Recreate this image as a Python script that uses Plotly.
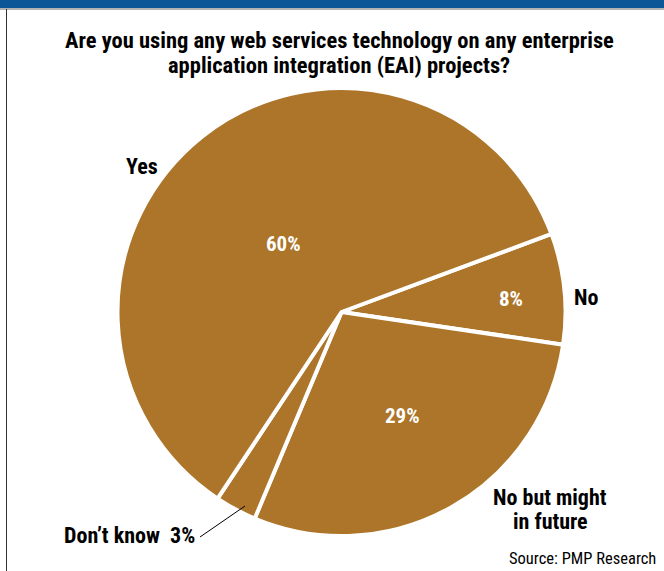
import math
import plotly.graph_objects as go

# Survey answers, in clockwise order starting from the "No" slice
labels = ["No", "No but might in future", "Don’t know", "Yes"]
values = [8, 29, 3, 60]
title_lines = ["Are you using any web services technology on any enterprise",
               "application integration (EAI) projects?"]
source_text = "Source: PMP Research"

W, H = 664, 571
BROWN = "#AC7529"
FONT = "Roboto Condensed, Open Sans Condensed, Arial Narrow, sans-serif"

# pie placement in pixels
cx, cy, R = 341.5, 312, 224
start_deg = 69.6  # compass angle where the first slice begins

fig = go.Figure(go.Pie(
    labels=labels, values=values, sort=False, direction="clockwise",
    rotation=start_deg, textinfo="none", hoverinfo="label+percent",
    marker=dict(colors=[BROWN] * 4, line=dict(color="white", width=4)),
    domain=dict(x=[(cx - R) / W, (cx + R) / W], y=[1 - (cy + R) / H, 1 - (cy - R) / H]),
    showlegend=False,
))


def px_to_paper(x, y):
    return x / W, 1 - y / H


def slice_point(i, frac_r, extra_deg=0.0):
    total = sum(values)
    before = sum(values[:i])
    mid = start_deg + 360 * (before + values[i] / 2) / total + extra_deg
    a = math.radians(mid)
    return cx + frac_r * R * math.sin(a), cy - frac_r * R * math.cos(a)


def text_at(x, y, text, size, color="black", xanchor="center"):
    px, py = px_to_paper(x, y)
    return dict(x=px, y=py, xref="paper", yref="paper", xanchor=xanchor, yanchor="middle",
                text=text, showarrow=False, align="center", borderpad=0,
                font=dict(family=FONT, size=size, color=color))


annotations = []
# white percentages inside the larger slices
inside = {0: (0.76, 1.5), 1: (0.54, -1.0), 3: (0.40, -2.0)}
for i, (r, extra) in inside.items():
    x, y = slice_point(i, r, extra)
    annotations.append(text_at(x, y, f"<b>{values[i]}%</b>", 21, "white"))

# category names around the pie
annotations.append(text_at(586, 297, f"<b>{labels[0]}</b>", 22))
annotations.append(text_at(142, 167, f"<b>{labels[3]}</b>", 22))
annotations.append(text_at(550, 497, "<b>No but might</b>", 22))
annotations.append(text_at(550, 521, "<b>in future</b>", 22))

# small slice labelled outside with a leader line
annotations.append(text_at(129, 535, f"<b>{labels[2]}  {values[2]}%</b>", 22))

# title and source
annotations.append(text_at(339, 40, f"<b>{title_lines[0]}</b>", 22.5))
annotations.append(text_at(339, 64.5, f"<b>{title_lines[1]}</b>", 22.5))
annotations.append(text_at(657, 558, source_text, 16.5, xanchor="right"))

lx0, ly0 = px_to_paper(200, 537)
lx1, ly1 = px_to_paper(245, 506)
shapes = [
    dict(type="rect", xref="paper", yref="paper", x0=0, x1=1, y0=1 - 8 / H, y1=1,
         fillcolor="#0C5698", line=dict(width=0)),
    dict(type="line", xref="paper", yref="paper", x0=0, x1=1, y0=1 - 9 / H, y1=1 - 9 / H,
         line=dict(color="#666666", width=1)),
    dict(type="line", xref="paper", yref="paper", x0=6.5 / W, x1=6.5 / W, y0=0, y1=1 - 9 / H,
         line=dict(color="#333333", width=1)),
    dict(type="line", xref="paper", yref="paper", x0=lx0, y0=ly0, x1=lx1, y1=ly1,
         line=dict(color="black", width=1)),
]

fig.update_layout(
    width=W, height=H, margin=dict(l=0, r=0, t=0, b=0),
    paper_bgcolor="white", plot_bgcolor="white",
    annotations=annotations, shapes=shapes,
)
fig.write_html("out.html")
